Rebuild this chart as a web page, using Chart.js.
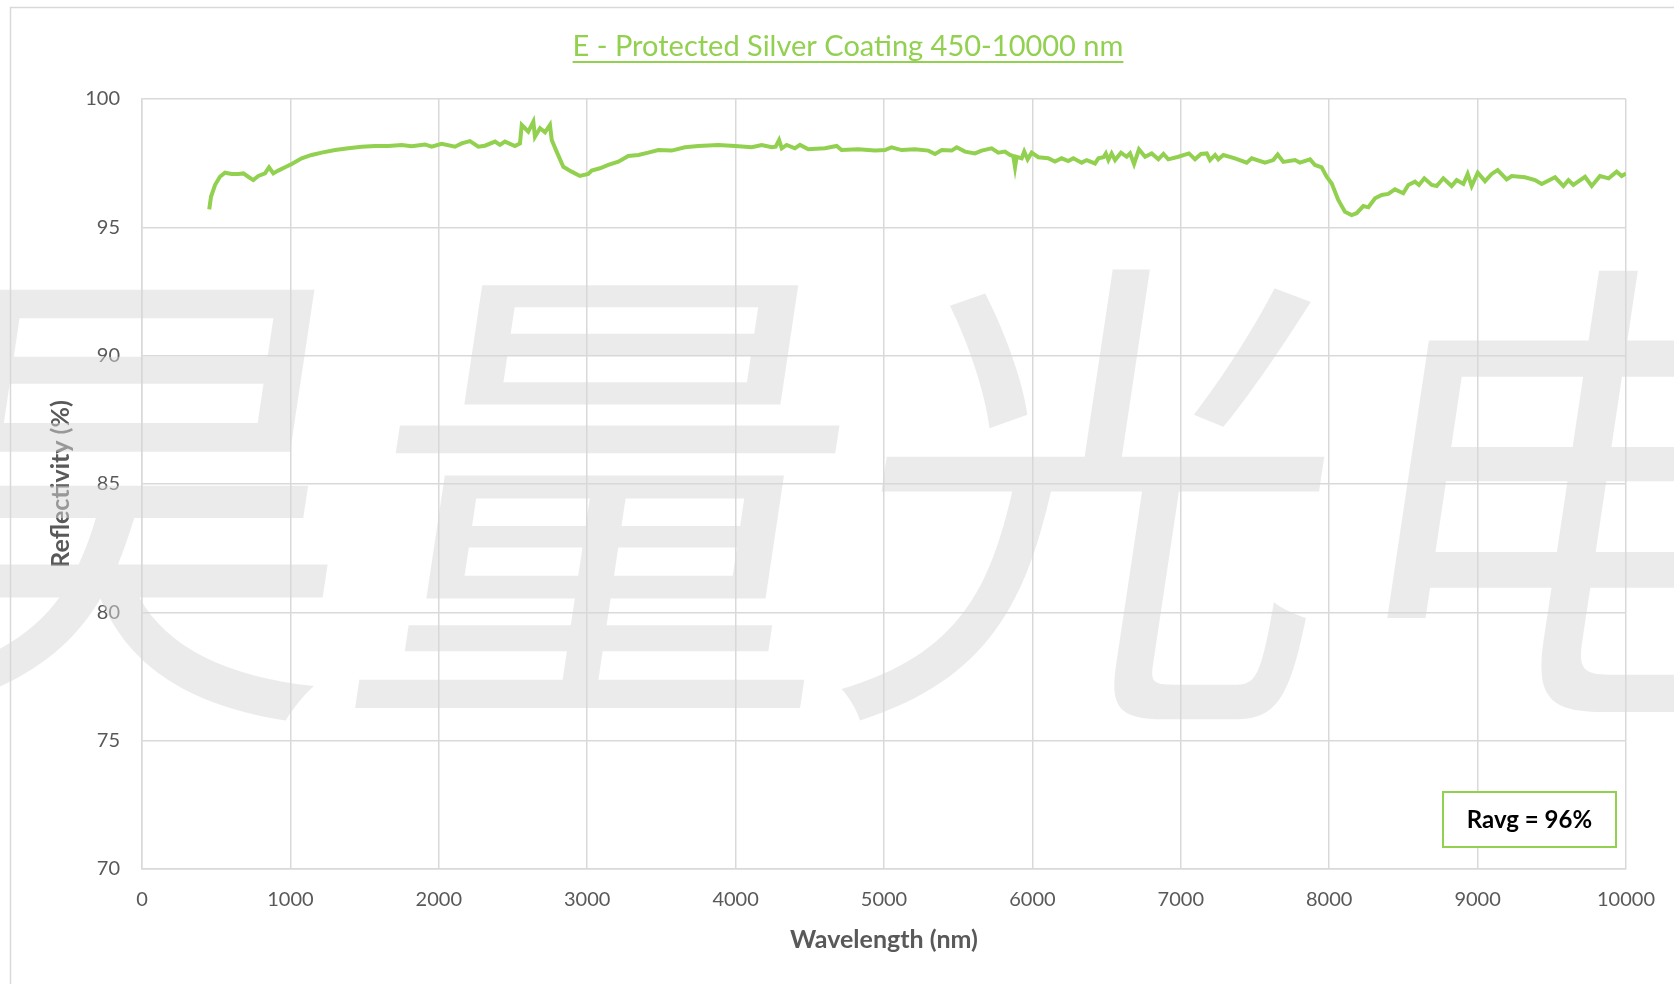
<!DOCTYPE html>
<html>
<head>
<meta charset="utf-8">
<title>E - Protected Silver Coating 450-10000 nm</title>
<script src="https://cdn.jsdelivr.net/npm/chart.js@4.4.1/dist/chart.umd.min.js"></script>
<style>
  html, body { margin: 0; padding: 0; background: #ffffff; }
  canvas { display: block; }
</style>
</head>
<body>
<canvas id="silver" width="1674" height="984"></canvas>
<script>
// wavelength (nm) and reflectivity (%)
const wavelengths = [
  453, 465, 492, 525, 559, 604, 649, 683, 716, 750, 784, 829, 856, 885, 918, 964,
  1009, 1076, 1143, 1211, 1301, 1391, 1480, 1570, 1660, 1750, 1817, 1907, 1952,
  2019, 2109, 2154, 2210, 2266, 2311, 2379, 2412, 2446, 2513, 2547, 2559, 2581,
  2603, 2637, 2648, 2682, 2716, 2749, 2761, 2794, 2839, 2895, 2951, 3007, 3030,
  3086, 3142, 3210, 3277, 3345, 3412, 3479, 3569, 3659, 3749, 3884, 3996, 4109,
  4176, 4244, 4270, 4293, 4311, 4344, 4400, 4434, 4490, 4602, 4681, 4714, 4827,
  4939, 5007, 5051, 5119, 5209, 5299, 5344, 5389, 5456, 5490, 5546, 5613, 5658,
  5725, 5770, 5815, 5849, 5871, 5883, 5894, 5928, 5945, 5968, 5995, 6040, 6107,
  6152, 6197, 6242, 6276, 6332, 6366, 6422, 6445, 6479, 6495, 6512, 6534, 6557,
  6597, 6635, 6658, 6685, 6718, 6759, 6804, 6849, 6883, 6916, 6984, 7055, 7096,
  7136, 7175, 7197, 7231, 7253, 7287, 7365, 7444, 7478, 7567, 7623, 7653, 7691,
  7770, 7803, 7871, 7904, 7949, 7983, 8017, 8061, 8106, 8151, 8185, 8230, 8264,
  8309, 8354, 8398, 8443, 8499, 8533, 8578, 8605, 8641, 8691, 8724, 8769, 8825,
  8859, 8904, 8933, 8960, 9001, 9050, 9095, 9135, 9196, 9230, 9319, 9387, 9432,
  9522, 9578, 9612, 9645, 9724, 9769, 9825, 9883, 9937, 9971, 10000
];

const reflectivity = [
  95.70, 96.19, 96.65, 96.97, 97.13, 97.08, 97.08, 97.10, 96.97, 96.84, 97.00, 97.10, 97.34, 97.10, 97.21, 97.34,
  97.47, 97.69, 97.82, 97.91, 98.01, 98.08, 98.14, 98.17, 98.17, 98.21, 98.16, 98.23, 98.14,
  98.25, 98.14, 98.27, 98.36, 98.14, 98.18, 98.34, 98.21, 98.34, 98.17, 98.27, 98.99, 98.86,
  98.73, 99.12, 98.53, 98.86, 98.70, 98.99, 98.40, 97.95, 97.36, 97.17, 97.00, 97.08, 97.21,
  97.30, 97.43, 97.56, 97.78, 97.82, 97.91, 98.01, 97.99, 98.12, 98.17, 98.21, 98.17, 98.12,
  98.21, 98.12, 98.14, 98.40, 98.08, 98.21, 98.08, 98.21, 98.04, 98.08, 98.17, 98.01, 98.04,
  97.99, 98.01, 98.12, 98.01, 98.04, 97.99, 97.86, 98.01, 97.99, 98.12, 97.95, 97.88, 97.99,
  98.08, 97.91, 97.95, 97.82, 97.78, 97.34, 97.75, 97.69, 97.95, 97.65, 97.91, 97.73, 97.69,
  97.56, 97.69, 97.58, 97.69, 97.52, 97.62, 97.49, 97.69, 97.73, 97.88, 97.62, 97.88, 97.62,
  97.91, 97.75, 97.88, 97.47, 98.04, 97.75, 97.88, 97.65, 97.86, 97.65, 97.75, 97.88, 97.65,
  97.86, 97.88, 97.62, 97.82, 97.65, 97.82, 97.69, 97.52, 97.69, 97.52, 97.62, 97.84, 97.55,
  97.62, 97.52, 97.65, 97.43, 97.34, 96.97, 96.71, 96.07, 95.61, 95.48, 95.55, 95.83, 95.78,
  96.13, 96.26, 96.30, 96.48, 96.33, 96.65, 96.78, 96.65, 96.91, 96.65, 96.61, 96.91, 96.61,
  96.84, 96.69, 97.08, 96.61, 97.13, 96.80, 97.08, 97.23, 96.87, 97.00, 96.95, 96.84, 96.69,
  96.95, 96.61, 96.84, 96.65, 96.97, 96.61, 97.00, 96.91, 97.17, 97.00, 97.10
];

const titleText = 'E - Protected Silver Coating 450-10000 nm';
const xTitle = 'Wavelength (nm)';
const yTitle = 'Reflectivity (%)';
const ravgText = 'Ravg = 96%';
const watermarkText = '昊量光电';

const green = '#92d050';
const gridGray = '#d9d9d9';
const textGray = '#595959';

const points = wavelengths.map((w, i) => ({ x: w, y: reflectivity[i] }));

// outer frame, title, Ravg box and the watermark
const decorations = {
  id: 'decorations',
  beforeDraw(chart) {
    const ctx = chart.ctx;
    ctx.save();
    ctx.strokeStyle = gridGray;
    ctx.lineWidth = 1.5;
    ctx.beginPath();
    ctx.moveTo(10.5, chart.height);
    ctx.lineTo(10.5, 7.5);
    ctx.lineTo(chart.width, 7.5);
    ctx.stroke();

    // title, underlined
    ctx.font = '29px Lato';
    ctx.fillStyle = green;
    ctx.textAlign = 'center';
    ctx.textBaseline = 'middle';
    const cx = 848;
    ctx.fillText(titleText, cx, 47);
    const tw = ctx.measureText(titleText).width;
    ctx.fillRect(cx - tw / 2, 61, tw, 2);
    ctx.restore();
  },
  afterDraw(chart) {
    const ctx = chart.ctx;
    const area = chart.chartArea;

    // Ravg box
    const bw = 173, bh = 55;
    const bx = area.right - 10 - bw;
    const by = area.bottom - 22 - bh;
    ctx.save();
    ctx.fillStyle = '#ffffff';
    ctx.fillRect(bx, by, bw, bh);
    ctx.strokeStyle = green;
    ctx.lineWidth = 2;
    ctx.strokeRect(bx, by, bw, bh);
    ctx.fillStyle = '#000000';
    ctx.font = 'bold 24px Lato';
    ctx.textAlign = 'center';
    ctx.textBaseline = 'middle';
    ctx.fillText(ravgText, bx + bw / 2, by + bh / 2 + 1);
    ctx.restore();

    // watermark
    ctx.save();
    ctx.fillStyle = 'rgba(215, 215, 215, 0.5)';
    ctx.font = '490px "Noto Sans CJK SC"';
    ctx.textAlign = 'left';
    ctx.textBaseline = 'middle';
    ctx.translate(-126, 495);
    ctx.transform(1, 0, -0.15, 1, 0, 0);
    ctx.fillText(watermarkText, 0, 0);
    ctx.restore();
  }
};

new Chart(document.getElementById('silver'), {
  type: 'line',
  data: {
    datasets: [
      {
        label: 'Reflectivity',
        data: points,
        borderColor: green,
        borderWidth: 4,
        pointRadius: 0,
        tension: 0,
        fill: false
      }
    ]
  },
  options: {
    responsive: false,
    animation: false,
    layout: {
      padding: { left: 0, right: 47, top: 99, bottom: 0 }
    },
    plugins: {
      legend: { display: false },
      tooltip: { enabled: false },
      title: { display: false }
    },
    scales: {
      x: {
        type: 'linear',
        min: 0,
        max: 10000,
        afterFit: (scale) => { scale.height = 115; },
        ticks: {
          stepSize: 1000,
          padding: 19,
          color: textGray,
          font: { family: 'Lato', size: 20 },
          callback: (value) => String(value)
        },
        grid: { color: gridGray, lineWidth: 1.5, drawTicks: false },
        border: { color: gridGray, width: 1.5 },
        title: {
          display: true,
          text: xTitle,
          color: textGray,
          font: { family: 'Lato', size: 25, weight: 'bold', lineHeight: 1.2 },
          padding: { top: 0, bottom: 29 }
        }
      },
      y: {
        min: 70,
        max: 100,
        afterFit: (scale) => { scale.width = 142; },
        ticks: {
          stepSize: 5,
          padding: 22,
          color: textGray,
          font: { family: 'Lato', size: 20 }
        },
        grid: { color: gridGray, lineWidth: 1.5, drawTicks: false },
        border: { color: gridGray, width: 1.5 },
        title: {
          display: true,
          text: yTitle,
          color: textGray,
          font: { family: 'Lato', size: 25, weight: 'bold', lineHeight: 1.2 },
          padding: { top: 46, bottom: 0 }
        }
      }
    }
  },
  plugins: [decorations]
});
</script>
</body>
</html>
